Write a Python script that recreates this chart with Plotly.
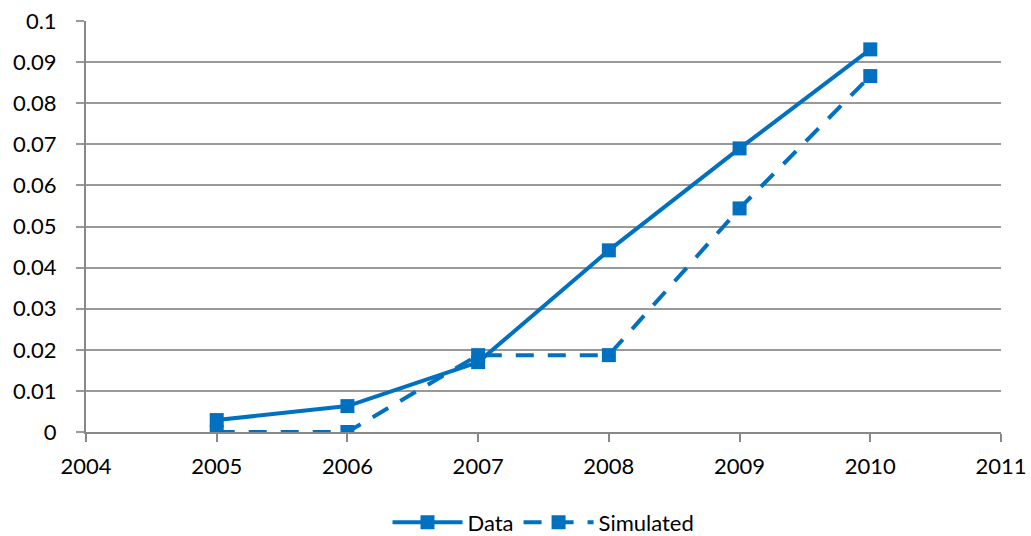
import plotly.graph_objects as go

years = [2005, 2006, 2007, 2008, 2009, 2010]
data_vals = [0.0029, 0.0063, 0.0170, 0.0442, 0.0690, 0.0931]
sim_vals = [0.0, 0.0, 0.0187, 0.0187, 0.0544, 0.0866]
x_ticks = [2004, 2005, 2006, 2007, 2008, 2009, 2010, 2011]
y_ticks = [0, 0.01, 0.02, 0.03, 0.04, 0.05, 0.06, 0.07, 0.08, 0.09, 0.1]
y_labels = ["0", "0.01", "0.02", "0.03", "0.04", "0.05", "0.06", "0.07", "0.08", "0.09", "0.1"]

blue = "#0070C0"
fig = go.Figure()
fig.add_trace(go.Scatter(x=years, y=data_vals, name="Data", mode="lines+markers",
                         line=dict(color=blue, width=4),
                         marker=dict(symbol="square", size=14, color=blue)))
fig.add_trace(go.Scatter(x=years, y=sim_vals, name="Simulated", mode="lines+markers",
                         line=dict(color=blue, width=4, dash="18px,14px"),
                         marker=dict(symbol="square", size=14, color=blue)))

font = dict(family="Lato, Open Sans, sans-serif", size=22, color="#000000")
fig.update_layout(
    width=1031, height=536,
    margin=dict(l=86, r=30, t=21, b=104, autoexpand=False),
    plot_bgcolor="white", paper_bgcolor="white",
    font=font,
    showlegend=True,
    legend=dict(orientation="h", x=0.5, xanchor="center", y=-0.22, yanchor="middle",
                font=font, itemwidth=70, tracegroupgap=30),
    xaxis=dict(range=[2004, 2011], tickvals=x_ticks, ticktext=[str(v) for v in x_ticks],
               showgrid=False, zeroline=False, showline=True, linecolor="#888888", linewidth=2,
               ticks="outside", ticklen=8, tickcolor="#888888", tickwidth=2,
               ticklabelstandoff=6, tickfont=font),
    yaxis=dict(range=[0, 0.1], tickvals=y_ticks, ticktext=y_labels,
               showgrid=True, gridcolor="#999999", gridwidth=2,
               zeroline=False, showline=True, linecolor="#888888", linewidth=2,
               ticks="outside", ticklen=8, tickcolor="#999999", tickwidth=2,
               ticklabelstandoff=15, tickfont=font),
)
fig.write_html("out.html")
